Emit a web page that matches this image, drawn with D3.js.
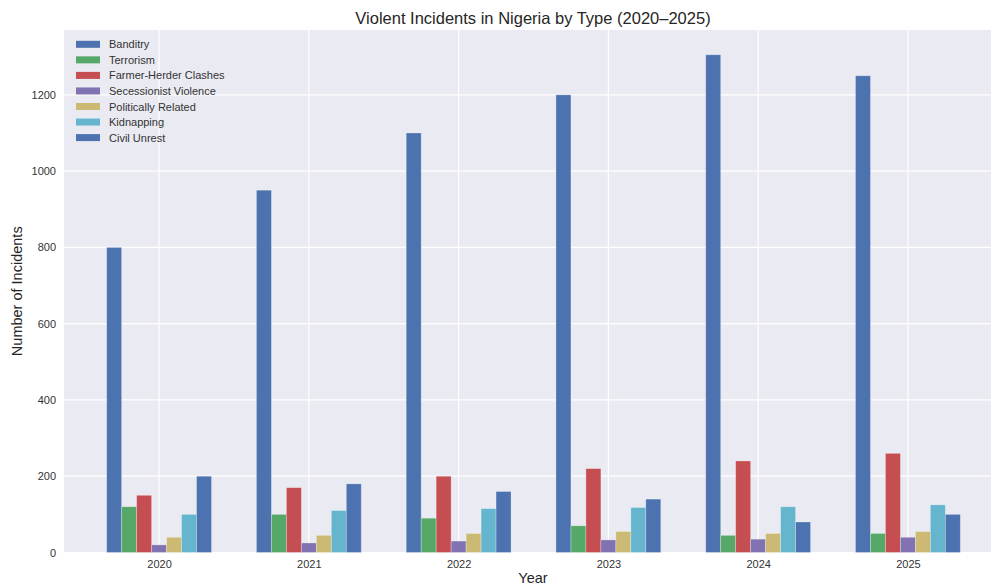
<!DOCTYPE html>
<html lang="en">
<head>
	<meta charset="utf-8">
	<title>Violent Incidents in Nigeria by Type</title>
	<script type="text/javascript" src="https://cdn.jsdelivr.net/npm/d3@7"></script>
</head>
<style type="text/css">
	body{
		margin:0;
		background:white;
	}
	text{
		font-family:"Liberation Sans", Arial, sans-serif;
	}
</style>
<body>
<div id="vizContainer"></div>
<script type="text/javascript">
// -----------DATA-----------
var years = ["2020","2021","2022","2023","2024","2025"];
var types = ["Banditry","Terrorism","Farmer-Herder Clashes","Secessionist Violence","Politically Related","Kidnapping","Civil Unrest"];
var banditry      = [800, 950, 1100, 1200, 1305, 1250];
var terrorism     = [120, 100, 90, 70, 45, 50];
var farmerHerder  = [150, 170, 200, 220, 240, 260];
var secessionist  = [20, 25, 30, 33, 35, 40];
var political     = [40, 45, 50, 55, 50, 55];
var kidnapping    = [100, 110, 115, 118, 120, 125];
var civilUnrest   = [200, 180, 160, 140, 80, 100];
var yTicks = [0, 200, 400, 600, 800, 1000, 1200];

var series = [banditry, terrorism, farmerHerder, secessionist, political, kidnapping, civilUnrest];
var colors = ["#4C72B0","#55A868","#C44E52","#8172B2","#CCB974","#64B5CD","#4C72B0"];

// -----------CANVAS-----------
var width = 991;
var height = 586;
var svgCanvas = d3.select("#vizContainer").append("svg")
	.attr("width", width)
	.attr("height", height);

var plotLeft = 64, plotRight = 1003, plotTop = 30, plotBottom = 552.5;

// x positions: year index like matplotlib, with 5% margins
var xScale = d3.scaleLinear()
	.domain([-0.635, 5.635])
	.range([plotLeft, plotRight]);
var yScale = d3.scaleLinear()
	.domain([0, 1370])
	.range([plotBottom, plotTop]);
// offset of each type inside a year group
var inner = d3.scaleBand()
	.domain(types)
	.range([-0.35, 0.35]);

// background of plot area
svgCanvas.append("rect")
	.attr("x", plotLeft)
	.attr("y", plotTop)
	.attr("width", plotRight - plotLeft)
	.attr("height", plotBottom - plotTop)
	.attr("fill", "#EAEAF2");

// grid
svgCanvas.append("g").selectAll("line")
	.data(yTicks)
	.enter()
	.append("line")
	.attr("x1", plotLeft).attr("x2", plotRight)
	.attr("y1", function(d){ return yScale(d); })
	.attr("y2", function(d){ return yScale(d); })
	.attr("stroke", "white")
	.attr("stroke-width", 1.2);
svgCanvas.append("g").selectAll("line")
	.data(years)
	.enter()
	.append("line")
	.attr("x1", function(d,i){ return xScale(i); })
	.attr("x2", function(d,i){ return xScale(i); })
	.attr("y1", plotTop).attr("y2", plotBottom)
	.attr("stroke", "white")
	.attr("stroke-width", 1.2);

// -----------BARS-----------
var groups = svgCanvas.selectAll(".type")
	.data(series)
	.enter()
	.append("g")
	.attr("class", "type")
	.attr("fill", function(d,i){ return colors[i]; });

groups.each(function(vals, k){
	d3.select(this).selectAll("rect")
		.data(vals)
		.enter()
		.append("rect")
		.attr("x", function(d,i){ return xScale(i + inner(types[k])); })
		.attr("width", xScale(inner.bandwidth()) - xScale(0))
		.attr("y", function(d){ return yScale(d); })
		.attr("height", function(d){ return yScale(0) - yScale(d); })
		.attr("stroke", "white")
		.attr("stroke-opacity", 0.35)
		.attr("stroke-width", 0.8);
});

// -----------AXES-----------
var xAxis = d3.axisBottom(xScale)
	.tickValues(d3.range(years.length))
	.tickFormat(function(i){ return years[i]; })
	.tickSize(0)
	.tickPadding(8);
var gx = svgCanvas.append("g")
	.attr("transform", "translate(0," + plotBottom + ")")
	.call(xAxis);
gx.select(".domain").remove();
gx.selectAll("text")
	.attr("font-family", "Liberation Sans, Arial, sans-serif")
	.attr("font-size", 11)
	.attr("fill", "#333");

var yAxis = d3.axisLeft(yScale)
	.tickValues(yTicks)
	.tickFormat(d3.format("d"))
	.tickSize(0)
	.tickPadding(8);
var gy = svgCanvas.append("g")
	.attr("transform", "translate(" + plotLeft + ",0)")
	.call(yAxis);
gy.select(".domain").remove();
gy.selectAll("text")
	.attr("font-family", "Liberation Sans, Arial, sans-serif")
	.attr("font-size", 11)
	.attr("fill", "#333");

// labels
svgCanvas.append("text")
	.attr("x", 533)
	.attr("y", 24)
	.attr("text-anchor", "middle")
	.attr("font-size", 16.5)
	.attr("fill", "#262626")
	.text("Violent Incidents in Nigeria by Type (2020\u20132025)");

svgCanvas.append("text")
	.attr("x", 533)
	.attr("y", 583)
	.attr("text-anchor", "middle")
	.attr("font-size", 14.5)
	.attr("fill", "#262626")
	.text("Year");

svgCanvas.append("text")
	.attr("transform", "translate(22," + ((plotTop + plotBottom) / 2) + ") rotate(-90)")
	.attr("text-anchor", "middle")
	.attr("font-size", 14.5)
	.attr("fill", "#262626")
	.text("Number of Incidents");

// -----------LEGEND-----------
var legend = svgCanvas.append("g")
	.selectAll("g")
	.data(types)
	.enter()
	.append("g")
	.attr("transform", function(d,i){ return "translate(76," + (44.3 + i * 15.55) + ")"; });
legend.append("rect")
	.attr("x", 0)
	.attr("y", -3.5)
	.attr("width", 24)
	.attr("height", 7)
	.attr("fill", function(d,i){ return colors[i]; });
legend.append("text")
	.attr("x", 33)
	.attr("y", 4)
	.attr("font-size", 11)
	.attr("fill", "#333")
	.text(function(d){ return d; });
</script>
</body>
</html>
